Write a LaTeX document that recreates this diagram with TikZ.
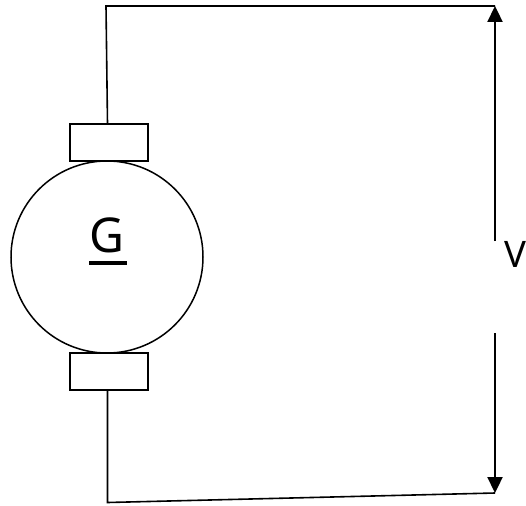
\documentclass[tikz,border=0pt]{standalone}
\usepackage{fontspec}
\setmainfont{Noto Sans}
\usetikzlibrary{arrows.meta}
\tikzset{
  wire/.style={draw=black,line width=1.6pt},
  brush/.style={draw=black,fill=white,line width=1.4pt,minimum width=78pt,minimum height=37pt,inner sep=0pt,outer sep=0pt},
  rotor/.style={draw=black,line width=1.5pt,circle,minimum size=192pt,inner sep=0pt,outer sep=0pt},
  volt/.style={draw=black,line width=2.3pt,-{Triangle[length=16pt,width=15pt]}}
}
\begin{document}
\begin{tikzpicture}[x=1pt,y=-1pt]
\useasboundingbox (0,0) rectangle (526,505);
\coordinate (tl) at (106,6);
\coordinate (tr) at (495,6);
\coordinate (bl) at (107.5,502.5);
\coordinate (br) at (495,493);
\coordinate (ut) at (495,241);
\coordinate (ub) at (495,333);
\node[rotor] (gen) at (107,257) {};
\node[brush] (btop) at (109,142.5) {};
\node[brush] (bbot) at (109,371.5) {};
\node[inner sep=0pt,anchor=base,font=\fontsize{48pt}{48pt}\selectfont] (glabel) at (107,252.5) {G};
\coordinate (ula) at (89,263);
\coordinate (ulb) at (127,263);
\draw[line width=3.8pt] (ula) -- (ulb);
\node[inner sep=0pt,anchor=base west,font=\fontsize{36.5pt}{36.5pt}\selectfont] (vlabel) at (504,267) {V};
\draw[wire] (btop.north -| 107.5,0) -- (tl) -- (tr);
\draw[wire] (bbot.south -| 107.5,0) -- (bl) -- (br);
\draw[volt] (ut) -- (tr);
\draw[volt] (ub) -- (br);
\end{tikzpicture}
\end{document}
